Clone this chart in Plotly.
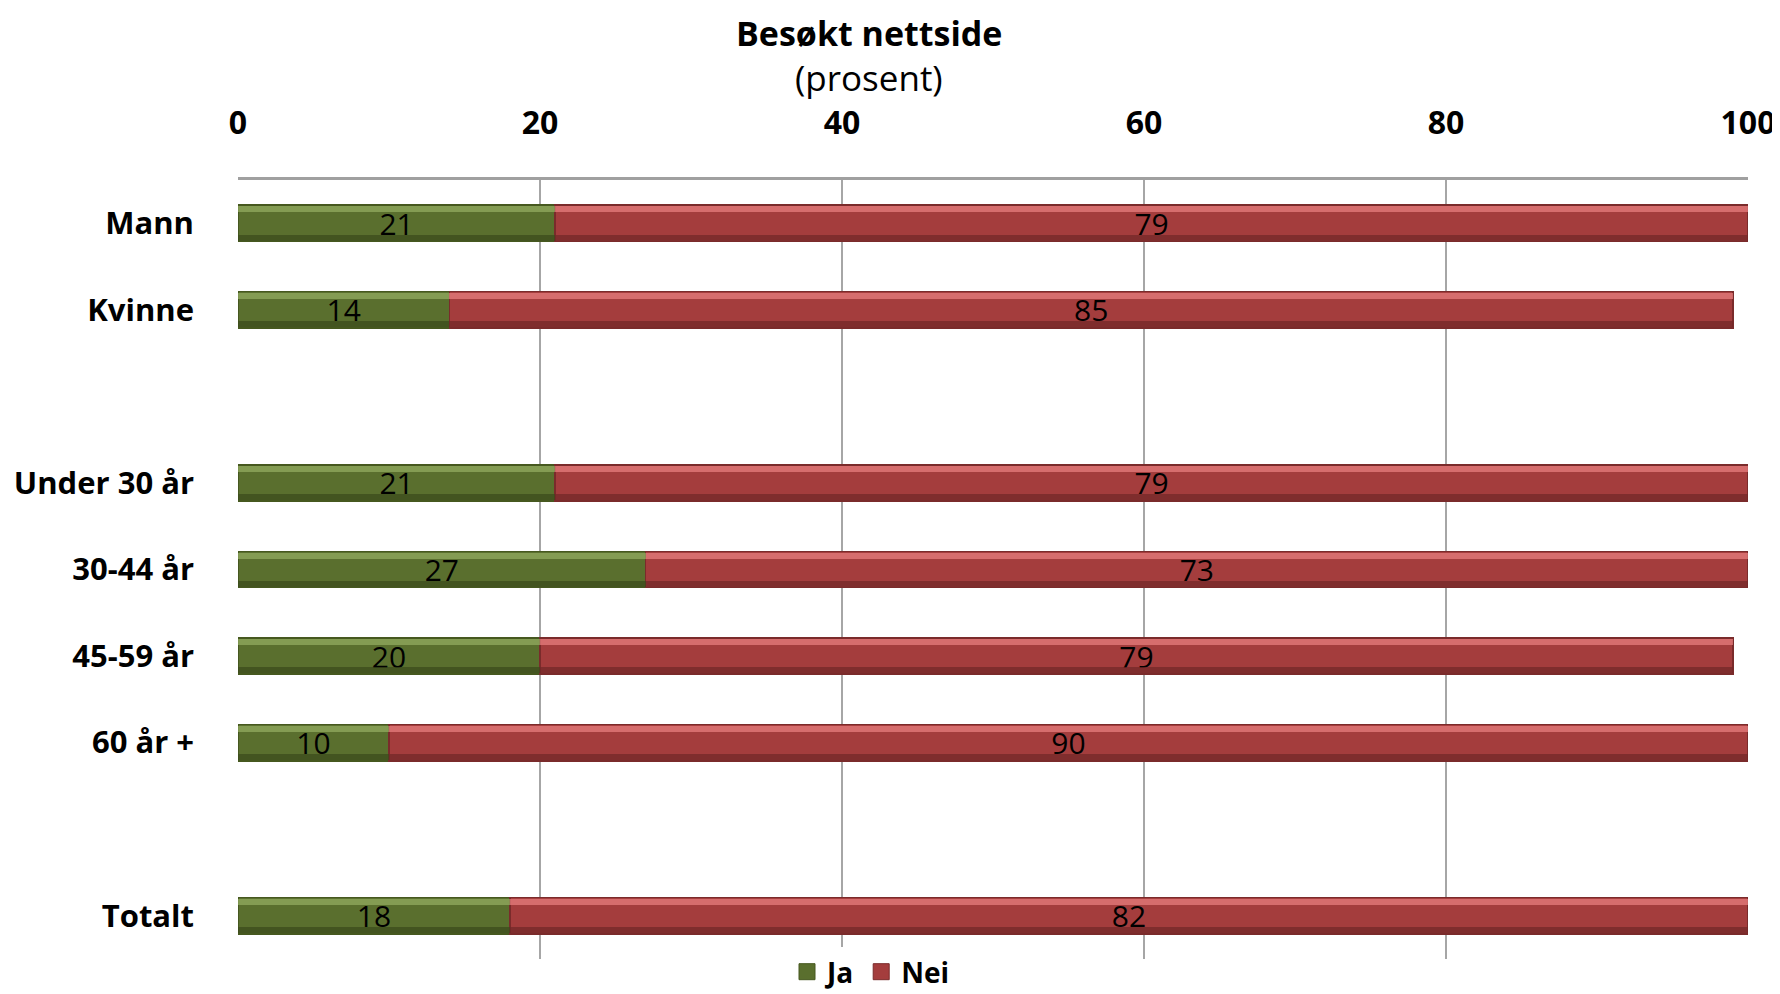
import plotly.graph_objects as go

categories = ["Mann", "Kvinne", " ", "Under 30 år", "30-44 år", "45-59 år", "60 år +", "  ", "Totalt"]
ja_values = [21, 14, None, 21, 27, 20, 10, None, 18]
nei_values = [79, 85, None, 79, 73, 79, 90, None, 82]
x_ticks = [0, 20, 40, 60, 80, 100]
series_names = ["Ja", "Nei"]

GREEN = "#5a6f2e"
GREEN_EDGE = "#46581f"
GREEN_HI = "rgba(150,175,100,0.7)"
GREEN_LO = "rgba(60,75,28,0.75)"
RED = "#a43d3d"
RED_EDGE = "#7a2b2b"
RED_HI = "rgba(235,130,130,0.7)"
RED_LO = "rgba(115,40,40,0.75)"

W, H = 1780, 994
OFF = 8  # page body margin offset
L, R, T, B = 230, 40, 172, 43
PW, PH = W - L - R, H - T - B

FONT = "Open Sans, sans-serif"
label_font = dict(family=FONT, size=30, color="black")

fig = go.Figure()
specs = [(series_names[0], ja_values, GREEN, GREEN_EDGE, GREEN_HI, GREEN_LO),
         (series_names[1], nei_values, RED, RED_EDGE, RED_HI, RED_LO)]
for name, vals, col, edge, hi, lo in specs:
    fig.add_trace(go.Bar(
        name=name, y=categories, x=vals, orientation="h",
        marker=dict(color=col, line=dict(color=edge, width=1.5)),
        text=[("" if v is None else str(v)) for v in vals],
        textposition="inside", insidetextanchor="middle", textangle=0,
        constraintext="none", cliponaxis=False,
        textfont=label_font, showlegend=False,
    ))
# bevel highlight / shadow stripes on overlaid axes
for name, vals, col, edge, hi, lo in specs:
    fig.add_trace(go.Bar(
        y=categories, x=vals, orientation="h", yaxis="y2",
        width=0.07, offset=-0.195, marker=dict(color=hi, line=dict(width=0)),
        hoverinfo="skip", showlegend=False,
    ))
for name, vals, col, edge, hi, lo in specs:
    fig.add_trace(go.Bar(
        y=categories, x=vals, orientation="h", yaxis="y3",
        width=0.07, offset=0.13, marker=dict(color=lo, line=dict(width=0)),
        hoverinfo="skip", showlegend=False,
    ))
for name, vals, col, edge, hi, lo in specs:
    fig.add_trace(go.Scatter(
        name=name, x=[None], y=[None], mode="markers",
        marker=dict(symbol="square", size=22, color=col, line=dict(color=edge, width=1)),
        showlegend=True,
    ))

def px_x(px):
    return (px - OFF - L) / PW

def px_y(py):
    return 1 - (py - OFF - T) / PH

yrange = [len(categories) - 0.5, -0.5]

fig.update_layout(
    barmode="stack",
    bargap=0.58,
    width=W, height=H,
    margin=dict(l=L, r=R, t=T, b=B, autoexpand=False),
    plot_bgcolor="white", paper_bgcolor="white",
    showlegend=True,
    legend=dict(
        orientation="h", xref="container", yref="container",
        x=(871 - OFF) / W, xanchor="center", y=1 - (972 - OFF) / H, yanchor="middle",
        font=dict(family=FONT, size=28, color="black", weight="bold"),
        traceorder="normal", itemsizing="trace",
    ),
    annotations=[
        dict(text="<b>Besøkt nettside</b>", x=px_x(869), y=px_y(33),
             xref="paper", yref="paper", xanchor="center", yanchor="middle",
             showarrow=False, font=dict(family=FONT, size=34, color="black")),
        dict(text="(prosent)", x=px_x(869), y=px_y(78),
             xref="paper", yref="paper", xanchor="center", yanchor="middle",
             showarrow=False, font=dict(family=FONT, size=35, color="black")),
    ],
    yaxis2=dict(overlaying="y", visible=False, categoryorder="array",
                categoryarray=categories, range=yrange, type="category"),
    yaxis3=dict(overlaying="y", visible=False, categoryorder="array",
                categoryarray=categories, range=yrange, type="category"),
)

fig.update_xaxes(
    side="top", range=[0, 100], tickvals=x_ticks, automargin=False,
    showgrid=True, gridcolor="#a6a6a6", gridwidth=2,
    showline=True, linecolor="#a0a0a0", linewidth=3, mirror=False,
    zeroline=False, ticks="", ticklabelstandoff=30,
    tickfont=dict(family=FONT, size=32, color="black", weight="bold"),
)
fig.layout.yaxis.update(
    type="category", categoryorder="array", categoryarray=categories, range=yrange,
    automargin=False,
    showgrid=False, showline=False, zeroline=False, ticks="",
    ticklabelstandoff=43,
    tickfont=dict(family=FONT, size=31, color="black", weight="bold"),
)

fig.write_html("out.html")
